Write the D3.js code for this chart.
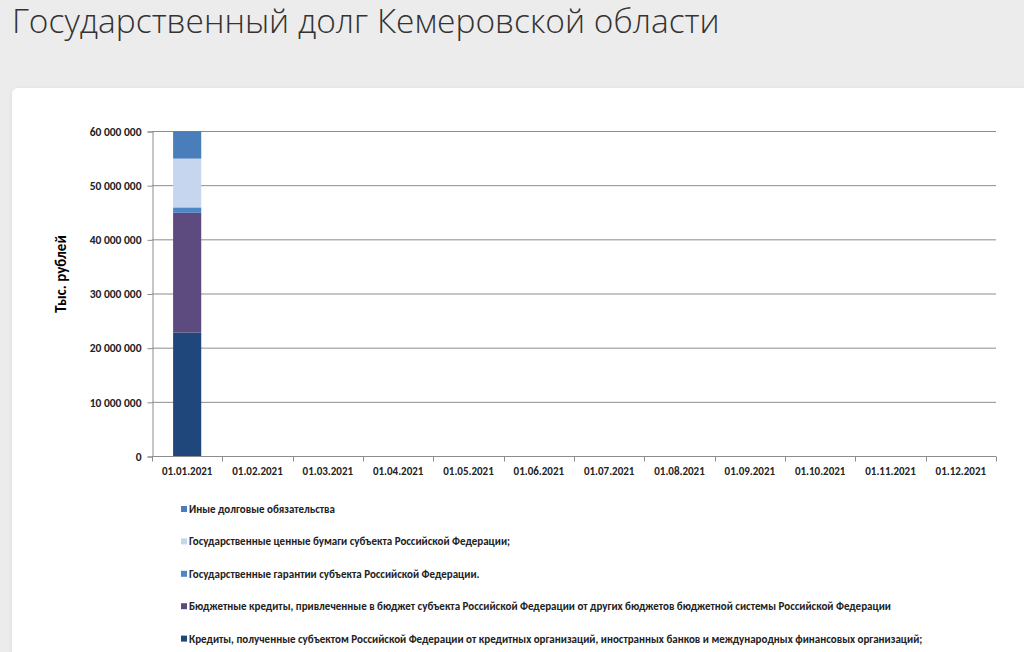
<!DOCTYPE html>
<html lang="ru">
<head>
<meta charset="UTF-8">
<title>Государственный долг Кемеровской области</title>
<script src="https://d3js.org/d3.v7.min.js"></script>
<style>
    html, body { margin: 0; padding: 0; background: #ececec; overflow: hidden; }
    svg { display: block; }
</style>
</head>
<body>
<svg width="1024" height="652"></svg>
<script>
    // даты отчётов
    const dates = ["01.01.2021", "01.02.2021", "01.03.2021", "01.04.2021", "01.05.2021", "01.06.2021",
                   "01.07.2021", "01.08.2021", "01.09.2021", "01.10.2021", "01.11.2021", "01.12.2021"];

    // тыс. рублей, снизу вверх
    const kredityOrg   = [22800000, 0, 0, 0, 0, 0, 0, 0, 0, 0, 0, 0];
    const budgetKred   = [22100000, 0, 0, 0, 0, 0, 0, 0, 0, 0, 0, 0];
    const garantii     = [1000000, 0, 0, 0, 0, 0, 0, 0, 0, 0, 0, 0];
    const cennyeBumagi = [9000000, 0, 0, 0, 0, 0, 0, 0, 0, 0, 0, 0];
    const inyeDolg     = [5050000, 0, 0, 0, 0, 0, 0, 0, 0, 0, 0, 0];

    const seriesNames = [
        "Кредиты, полученные субъектом Российской Федерации от кредитных организаций, иностранных банков и международных финансовых организаций;",
        "Бюджетные кредиты, привлеченные в бюджет субъекта Российской Федерации от других бюджетов бюджетной системы Российской Федерации",
        "Государственные гарантии субъекта Российской Федерации.",
        "Государственные ценные бумаги субъекта Российской Федерации;",
        "Иные долговые обязательства"
    ];
    const seriesValues = [kredityOrg, budgetKred, garantii, cennyeBumagi, inyeDolg];
    const colors = ["#1f477b", "#5d4a7e", "#4f86c6", "#c6d6ee", "#4a7ebb"];

    const yTicks = [0, 10000000, 20000000, 30000000, 40000000, 50000000, 60000000];

    const svg = d3.select("svg");
    const font = "Carlito, 'Liberation Sans', sans-serif";

    // заголовок
    svg.append("text")
        .attr("x", 12).attr("y", 33)
        .attr("font-family", "'Open Sans', sans-serif")
        .attr("font-weight", 300)
        .attr("font-size", 33.5)
        .attr("fill", "#333")
        .text("Государственный долг Кемеровской области");

    // карточка
    const defs = svg.append("defs");
    const f = defs.append("filter").attr("id", "sh").attr("x", "-5%").attr("y", "-5%").attr("width", "110%").attr("height", "110%");
    f.append("feDropShadow").attr("dx", 0).attr("dy", 1).attr("stdDeviation", 2).attr("flood-color", "#000").attr("flood-opacity", 0.08);
    svg.append("rect")
        .attr("x", 12).attr("y", 88).attr("width", 1030).attr("height", 600)
        .attr("rx", 6).attr("fill", "#fff").attr("filter", "url(#sh)");

    const x = d3.scaleBand().domain(dates).range([152, 996]).paddingInner(0.6).paddingOuter(0.3);
    const y = d3.scaleLinear().domain([0, 60000000]).range([456, 131]);
    const fmt = v => d3.format(",")(v).replace(/,/g, " ");

    // сетка
    svg.append("g").selectAll("line")
        .data(yTicks.filter(d => d > 0))
        .join("line")
        .attr("x1", 152).attr("x2", 996)
        .attr("y1", d => y(d) + 0.5).attr("y2", d => y(d) + 0.5)
        .attr("stroke", "#8c8c8c").attr("stroke-width", 1);

    // ось Y
    const yAxis = svg.append("g")
        .attr("transform", "translate(152.5,0.5)")
        .call(d3.axisLeft(y).tickValues(yTicks).tickFormat(fmt).tickSize(5).tickPadding(6));
    yAxis.select(".domain").attr("stroke", "#8c8c8c");
    yAxis.selectAll(".tick line").attr("stroke", "#8c8c8c");
    yAxis.selectAll("text").attr("font-family", font).attr("font-weight", "bold")
        .attr("font-size", 11.5).attr("fill", "#222");

    svg.append("text")
        .attr("transform", "translate(66,274) rotate(-90)")
        .attr("text-anchor", "middle")
        .attr("font-family", font).attr("font-weight", "bold").attr("font-size", 15).attr("fill", "#000")
        .text("Тыс. рублей");

    // столбцы
    const rows = dates.map((d, i) => {
        const r = { date: d };
        seriesValues.forEach((s, k) => r["s" + k] = s[i]);
        return r;
    });
    const stack = d3.stack().keys(seriesValues.map((s, k) => "s" + k))(rows);
    svg.append("g").selectAll("g")
        .data(stack)
        .join("g")
        .attr("fill", (d, k) => colors[k])
        .selectAll("rect")
        .data(d => d.filter(p => p[1] > p[0]))
        .join("rect")
        .attr("x", p => x(p.data.date))
        .attr("width", x.bandwidth())
        .attr("y", p => y(p[1]))
        .attr("height", p => y(p[0]) - y(p[1]));

    // ось X
    const xAxis = svg.append("g").attr("transform", "translate(0,456.5)");
    xAxis.append("line").attr("x1", 152).attr("x2", 996).attr("stroke", "#8c8c8c");
    const bounds = [152].concat(dates.map(d => x(d) + x.step() * 0.7));
    xAxis.selectAll(".tk").data(bounds).join("line")
        .attr("x1", d => Math.round(d) + 0.5).attr("x2", d => Math.round(d) + 0.5)
        .attr("y1", 0).attr("y2", 5).attr("stroke", "#8c8c8c");
    xAxis.selectAll("text").data(dates).join("text")
        .attr("x", d => x(d) + x.bandwidth() / 2)
        .attr("y", 18)
        .attr("text-anchor", "middle")
        .attr("font-family", font).attr("font-weight", "bold").attr("font-size", 11).attr("fill", "#222")
        .text(d => d);

    // легенда
    const legendOrder = [4, 3, 2, 1, 0];
    const lg = svg.append("g").selectAll("g")
        .data(legendOrder)
        .join("g")
        .attr("transform", (k, i) => `translate(181,${509 + i * 32.4})`);
    lg.append("rect").attr("x", 0).attr("y", -3).attr("width", 6).attr("height", 6).attr("fill", k => colors[k]);
    lg.append("text")
        .attr("x", 8).attr("y", 4)
        .attr("font-family", font).attr("font-weight", "bold").attr("font-size", 11).attr("fill", "#222")
        .text(k => seriesNames[k]);
</script>
</body>
</html>
